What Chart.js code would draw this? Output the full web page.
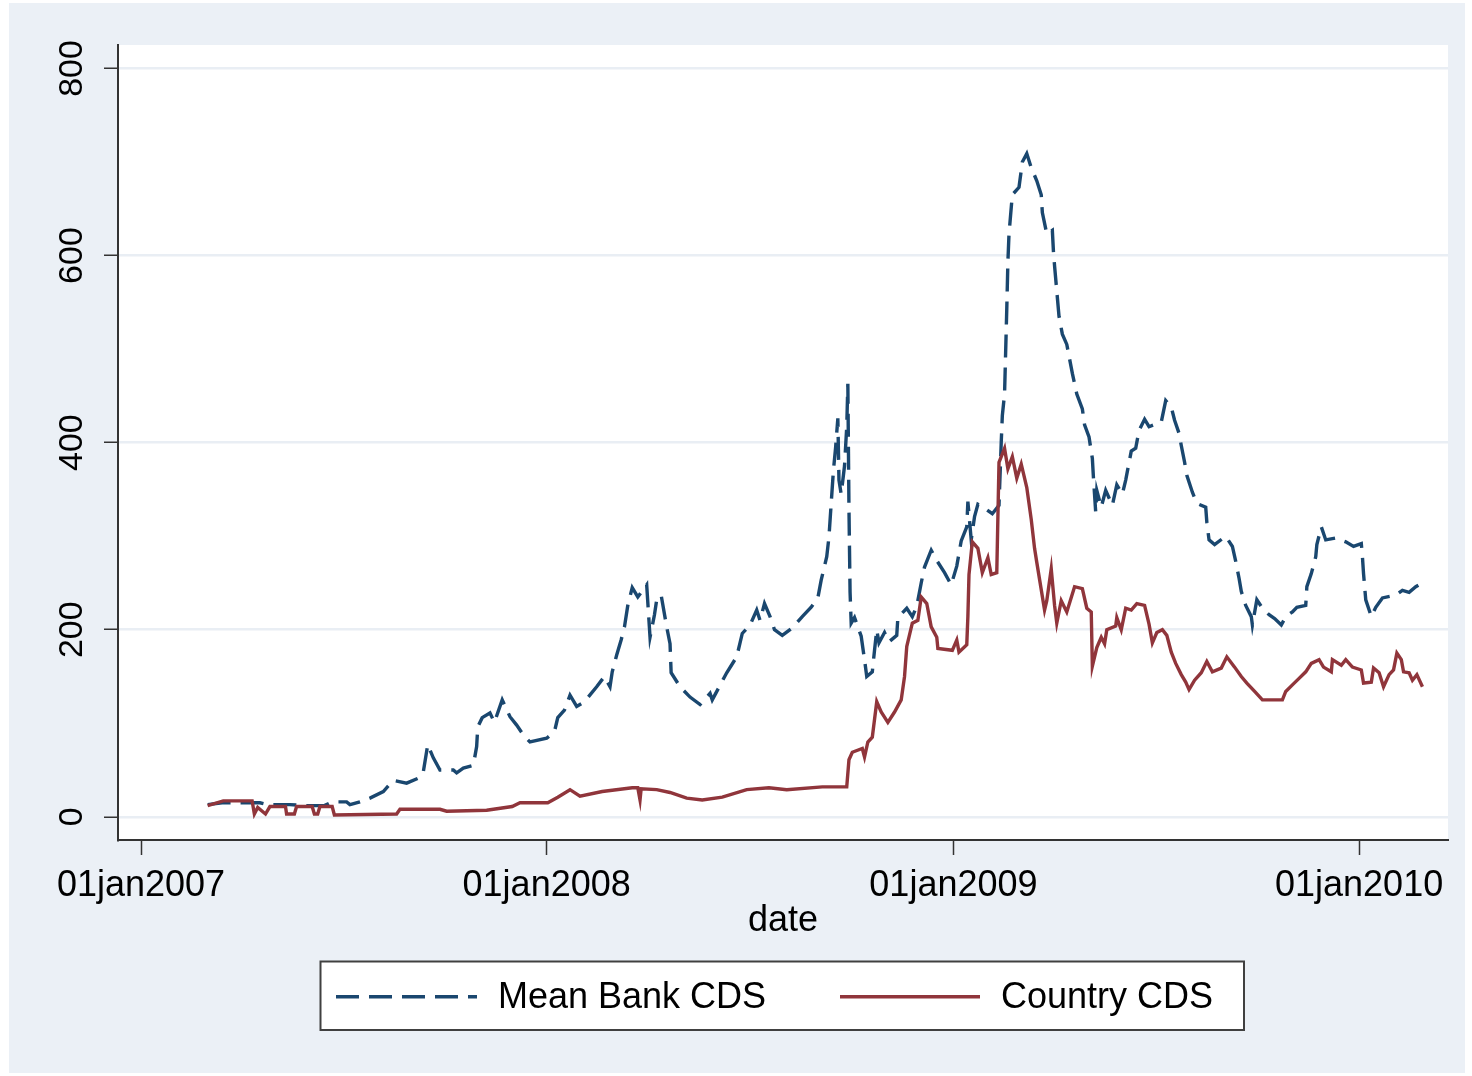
<!DOCTYPE html>
<html>
<head>
<meta charset="utf-8">
<title>Mean Bank CDS and Country CDS</title>
<script src="https://cdn.jsdelivr.net/npm/chart.js@4.4.1/dist/chart.umd.min.js"></script>
<style>
  html, body { margin: 0; padding: 0; background: #ffffff; }
  #frame { position: absolute; left: 9px; top: 3px; width: 1456px; height: 1070px; background: #ebf0f6; }
  canvas { display: block; }
</style>
</head>
<body>
<div id="frame"><canvas id="cds" width="1456" height="1070"></canvas></div>
<script>
// Dates are Stata daily dates (days since 01jan1960); spreads in basis points.
const bankDates = [
  17227,17240,17274,17281,17301,17314,17332,17339,17352,17355,
  17364,17373,17385,17394,17406,17418,17421,17425,17430,17436,
  17448,17451,17457,17466,17469,17470,17474,17481,17485,17492,
  17499,17505,17512,17517,17532,17539,17542,17548,17553,17559,
  17566,17577,17584,17589,17591,17595,17599,17602,17605,17609,
  17614,17622,17625,17629,17631,17635,17640,17643,17644,17652,
  17661,17670,17679,17681,17694,17703,17708,17715,17721,17724,
  17728,17733,17737,17744,17753,17762,17770,17776,17779,17784,
  17786,17788,17790,17792,17794,17795,17797,17800,17802,17803,
  17804,17805,17806,17809,17815,17818,17820,17825,17827,17829,
  17831,17836,17840,17847,17848,17856,17861,17865,17869,17872,
  17878,17883,17890,17896,17901,17905,17910,17911,17914,17917,
  17920,17926,17933,17939,17941,17942,17944,17946,17947,17948,
  17951,17957,17960,17964,17968,17973,17977,17978,17982,17987,
  17988,17989,17991,17993,17996,18000,18005,18009,18014,18016,
  18020,18023,18024,18026,18027,18031,18035,18041,18045,18050,
  18053,18058,18062,18065,18070,18074,18085,18089,18094,18097,
  18101,18103,18106,18108,18113,18117,18125,18126,18128,18133,
  18143,18149,18152,18155,18157,18161,18166,18167,18171,18176,
  18182,18187,18193,18197,18203,18207,18215,18216,18220,18224,
  18225,18229,18233,18242,18251,18258,18265,18266,18267,18269,
  18274,18278,18284,18296,18302,18308,18314,18320
];
const bankCDS = [
  13,15,15,13,13,12,12,16,16,13,
  16,20,27,39,36,42,48,77,63,50,
  50,47,52,55,75,96,106,111,101,125,
  107,98,86,80,84,91,106,114,130,118,
  123,139,150,139,155,173,189,203,226,245,
  235,248,192,216,232,237,203,185,154,139,
  128,120,132,125,154,171,196,205,221,210,
  228,214,200,194,202,214,224,234,253,278,
  299,335,370,395,426,360,345,375,417,463,
  330,240,207,213,193,168,150,155,178,200,
  186,197,187,194,213,223,214,225,250,267,
  285,274,261,248,268,295,310,337,296,321,
  334,330,324,333,400,429,452,543,593,623,
  665,673,700,709,694,680,665,646,623,627,
  604,589,562,535,516,505,474,452,436,419,
  406,383,362,326,349,331,349,333,355,345,
  360,391,394,413,425,417,422,445,438,424,
  410,397,379,365,347,335,331,315,296,291,
  300,289,273,255,241,226,214,205,232,223,
  216,212,205,214,219,224,226,246,260,278,
  291,310,296,298,294,289,292,278,260,232,
  214,224,234,237,242,240,246,250
];
const countryDates = [
  17227,17241,17267,17269,17272,17279,17283,17297,17298,17305,
  17307,17321,17323,17326,17328,17339,17341,17397,17400,17436,
  17442,17478,17501,17508,17533,17542,17553,17562,17582,17609,
  17614,17616,17617,17631,17643,17658,17672,17690,17712,17732,
  17748,17780,17802,17804,17807,17816,17818,17821,17825,17829,
  17833,17839,17845,17851,17854,17856,17858,17861,17866,17869,
  17874,17878,17883,17884,17897,17901,17903,17910,17911,17912,
  17915,17920,17924,17929,17932,17937,17939,17944,17947,17951,
  17955,17959,17962,17964,17968,17971,17973,17980,17982,17986,
  17989,17991,17995,18000,18007,18014,18018,18022,18023,18027,
  18031,18034,18036,18044,18045,18049,18053,18058,18063,18070,
  18074,18077,18081,18086,18090,18094,18098,18103,18107,18110,
  18115,18121,18126,18131,18139,18144,18151,18157,18162,18169,
  18176,18194,18197,18203,18209,18215,18220,18227,18231,18238,
  18239,18247,18251,18257,18265,18267,18274,18276,18281,18285,
  18290,18294,18297,18301,18303,18308,18311,18315,18320
];
const countryCDS = [
  12,17,17,3,10,3,11,11,3,3,
  11,11,3,3,11,11,2,3,8,8,
  6,7,11,15,15,21,29,22,27,31,
  31,18,30,29,26,20,18,21,29,31,
  29,32,32,61,69,73,64,80,85,123,
  112,101,112,125,150,182,192,207,210,235,
  228,203,192,180,178,189,176,184,214,259,
  294,287,261,277,259,261,379,394,372,385,
  362,377,362,352,318,287,272,221,231,265,
  226,207,231,219,246,244,223,219,161,181,
  192,185,200,204,213,200,223,221,228,226,
  206,186,197,200,194,176,164,152,144,136,
  146,154,166,155,159,171,160,150,143,134,
  125,125,134,141,148,155,164,168,160,155,
  168,162,168,160,157,143,144,159,154,139,
  152,157,175,168,155,154,146,152,139
];
const seriesNames = ['Mean Bank CDS', 'Country CDS'];
const xTickDates = [17167, 17532, 17898, 18263];
const xTickLabels = ['01jan2007', '01jan2008', '01jan2009', '01jan2010'];
const yTickValues = [0, 200, 400, 600, 800];
const xAxisTitle = 'date';

const NAVY = '#1a476f';
const MAROON = '#90353b';
const AXIS = '#333333';
const GRID = '#e9eef4';
const FONT = '"Liberation Sans", Arial, sans-serif';
const BANK_DASH = [23, 10];
const LINE_WIDTH = 3.4;

function toPoints(dates, values) {
  return dates.map((d, i) => ({ x: d, y: values[i] }));
}

// White plotting region behind the grid and lines
const plotBackground = {
  id: 'plotBackground',
  beforeDraw(chart) {
    const { ctx, chartArea: a } = chart;
    ctx.save();
    ctx.fillStyle = '#ffffff';
    ctx.fillRect(a.left, a.top, a.right - a.left, a.bottom - a.top);
    ctx.restore();
  }
};

// Framed legend row below the axis title
const framedLegend = {
  id: 'framedLegend',
  afterDraw(chart) {
    const ctx = chart.ctx;
    const box = { x: 311.5, y: 958.5, w: 923.5, h: 68.5 };
    const midY = box.y + box.h / 2 + 1;
    const entries = [
      { ds: chart.data.datasets[0], x0: 327, x1: 468, tx: 489 },
      { ds: chart.data.datasets[1], x0: 831, x1: 971, tx: 992 }
    ];
    ctx.save();
    ctx.fillStyle = '#ffffff';
    ctx.fillRect(box.x, box.y, box.w, box.h);
    ctx.strokeStyle = '#404040';
    ctx.lineWidth = 2;
    ctx.strokeRect(box.x, box.y, box.w, box.h);
    entries.forEach(e => {
      ctx.beginPath();
      ctx.setLineDash(e.ds.borderDash || []);
      ctx.strokeStyle = e.ds.borderColor;
      ctx.lineWidth = LINE_WIDTH;
      ctx.lineCap = 'butt';
      ctx.moveTo(e.x0, midY);
      ctx.lineTo(e.x1, midY);
      ctx.stroke();
      ctx.setLineDash([]);
      ctx.fillStyle = '#000000';
      ctx.font = '36px ' + FONT;
      ctx.textAlign = 'left';
      ctx.textBaseline = 'middle';
      ctx.fillText(e.ds.label, e.tx, midY + 1);
    });
    ctx.restore();
  }
};

new Chart(document.getElementById('cds'), {
  type: 'line',
  data: {
    datasets: [
      {
        label: seriesNames[0],
        data: toPoints(bankDates, bankCDS),
        borderColor: NAVY,
        borderWidth: LINE_WIDTH,
        borderDash: BANK_DASH,
        borderCapStyle: 'butt',
        pointRadius: 0,
        tension: 0,
        fill: false,
        order: 1
      },
      {
        label: seriesNames[1],
        data: toPoints(countryDates, countryCDS),
        borderColor: MAROON,
        borderWidth: LINE_WIDTH,
        borderCapStyle: 'butt',
        pointRadius: 0,
        tension: 0,
        fill: false,
        order: 0
      }
    ]
  },
  options: {
    responsive: false,
    animation: false,
    devicePixelRatio: 1,
    layout: { padding: { left: 0, top: 42, right: 17, bottom: 130 } },
    plugins: { legend: { display: false }, tooltip: { enabled: false } },
    scales: {
      x: {
        type: 'linear',
        min: 17146.3,
        max: 18343,
        afterBuildTicks: s => { s.ticks = xTickDates.map(v => ({ value: v })); },
        afterFit: s => { s.height = 103; },
        ticks: {
          autoSkip: false,
          maxRotation: 0,
          padding: 9,
          color: '#000000',
          font: { family: FONT, size: 36 },
          callback: v => {
            const i = xTickDates.indexOf(v);
            return i >= 0 ? xTickLabels[i] : '';
          }
        },
        grid: { drawOnChartArea: false, tickLength: 15, tickColor: AXIS, tickWidth: 1.5 },
        border: { color: AXIS, width: 2 },
        title: {
          display: true,
          text: xAxisTitle,
          color: '#000000',
          font: { family: FONT, size: 36 },
          padding: { top: 0, bottom: 0 }
        }
      },
      y: {
        min: -24.8,
        max: 825.1,
        afterBuildTicks: s => { s.ticks = yTickValues.map(v => ({ value: v })); },
        afterFit: s => { s.width = 109; },
        ticks: {
          minRotation: 90,
          maxRotation: 90,
          crossAlign: 'center',
          padding: 3,
          color: '#000000',
          font: { family: FONT, size: 34 }
        },
        grid: { color: GRID, lineWidth: 2.5, tickLength: 14, tickColor: AXIS, tickWidth: 1.5 },
        border: { color: AXIS, width: 2 }
      }
    }
  },
  plugins: [plotBackground, framedLegend]
});
</script>
</body>
</html>
